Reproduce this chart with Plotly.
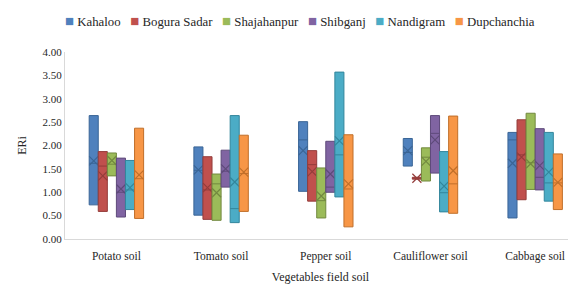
import plotly.graph_objects as go

categories = ["Potato soil", "Tomato soil", "Pepper soil", "Cauliflower soil", "Cabbage soil"]
sites = ["Kahaloo", "Bogura Sadar", "Shajahanpur", "Shibganj", "Nandigram", "Dupchanchia"]

# lower edge, upper edge, median line, mean (X) for each site across the 5 soils
low = {
    "Kahaloo":      [0.73, 0.51, 1.02, 1.56, 0.45],
    "Bogura Sadar": [0.59, 0.42, 0.81, 1.28, 0.84],
    "Shajahanpur":  [1.35, 0.40, 0.45, 1.24, 1.06],
    "Shibganj":     [0.47, 1.11, 1.00, 1.41, 1.05],
    "Nandigram":    [0.63, 0.35, 0.90, 0.58, 0.81],
    "Dupchanchia":  [0.44, 0.59, 0.26, 0.55, 0.63],
}
high = {
    "Kahaloo":      [2.64, 1.97, 2.51, 2.15, 2.28],
    "Bogura Sadar": [1.87, 1.76, 1.89, 1.32, 2.55],
    "Shajahanpur":  [1.84, 1.39, 1.52, 1.95, 2.69],
    "Shibganj":     [1.73, 1.90, 2.09, 2.64, 2.36],
    "Nandigram":    [1.68, 2.64, 3.57, 1.87, 2.28],
    "Dupchanchia":  [2.37, 2.22, 2.23, 2.63, 1.82],
}
median = {
    "Kahaloo":      [1.62, 1.47, 2.12, 1.85, 2.12],
    "Bogura Sadar": [1.56, 1.05, 1.59, 1.30, 1.80],
    "Shajahanpur":  [1.60, 1.18, 0.82, 1.75, 1.63],
    "Shibganj":     [1.00, 1.45, 1.11, 2.26, 1.32],
    "Nandigram":    [1.05, 0.65, 1.80, 0.99, 1.20],
    "Dupchanchia":  [1.29, 1.40, 1.07, 1.18, 1.20],
}
mean = {
    "Kahaloo":      [1.67, 1.48, 1.89, 1.89, 1.62],
    "Bogura Sadar": [1.35, 1.10, 1.44, 1.30, 1.75],
    "Shajahanpur":  [1.68, 0.99, 0.92, 1.66, 1.61],
    "Shibganj":     [1.07, 1.50, 1.39, 2.12, 1.57],
    "Nandigram":    [1.10, 1.22, 2.10, 1.13, 1.43],
    "Dupchanchia":  [1.37, 1.43, 1.18, 1.46, 1.21],
}
y_ticks = [0, 0.5, 1.0, 1.5, 2.0, 2.5, 3.0, 3.5, 4.0]

fill_colors = ["#4F81BD", "#C0504D", "#9BBB59", "#8064A2", "#4BACC6", "#F79646"]
edge_colors = ["#3A6596", "#943C3A", "#72893F", "#5E4A7A", "#33869C", "#C06F2A"]

FONT = "Liberation Serif, Times New Roman, serif"

fig = go.Figure()
for i, s in enumerate(sites):
    fig.add_trace(go.Box(
        name=s, x=categories,
        q1=low[s], q3=high[s], median=median[s],
        lowerfence=low[s], upperfence=high[s],
        fillcolor=fill_colors[i],
        line=dict(color=edge_colors[i], width=1),
        whiskerwidth=0,
        offsetgroup=s, legendgroup=s,
        boxpoints=False, hoverinfo="skip", showlegend=False,
    ))
    fig.add_trace(go.Box(
        name=s, x=categories, y=mean[s],
        fillcolor="rgba(0,0,0,0)",
        line=dict(color="rgba(0,0,0,0)", width=0),
        boxpoints="all", jitter=0, pointpos=0,
        marker=dict(symbol="x-thin", size=9, line=dict(color=edge_colors[i], width=1.2),
                    color=edge_colors[i]),
        offsetgroup=s, legendgroup=s, showlegend=False, hoverinfo="skip",
    ))

# compact legend as a single line of text
parts = []
for i, s in enumerate(sites):
    parts.append(f"<span style='color:{fill_colors[i]};font-size:15px'>■</span> {s}")
legend_text = "&nbsp;&nbsp;&nbsp;".join(parts)
fig.add_annotation(text=legend_text, xref="paper", yref="paper", x=-0.004, y=1.166,
                   xanchor="left", yanchor="middle", showarrow=False,
                   font=dict(family=FONT, size=12.8, color="#262626"))

fig.update_layout(
    width=568, height=276,
    margin=dict(l=57, r=0, t=44, b=45, autoexpand=False),
    paper_bgcolor="white", plot_bgcolor="white",
    boxmode="group", boxgap=0.48, boxgroupgap=0,
    font=dict(family=FONT, size=11, color="#262626"),
    showlegend=False,
    xaxis=dict(type="category", range=[-0.491, 4.39], showline=True, linecolor="#D9D9D9",
               linewidth=1, ticks="", showgrid=False, automargin=False,
               ticklabelstandoff=6,
               title=dict(text="Vegetables field soil", font=dict(family=FONT, size=12), standoff=16),
               tickfont=dict(family=FONT, size=11.5)),
    yaxis=dict(range=[0, 4], tickvals=y_ticks, tickformat=".2f", showline=True,
               linecolor="#D9D9D9", linewidth=1, showgrid=False, zeroline=False,
               ticks="", ticklen=0, automargin=False,
               title=dict(text="ERi", font=dict(family=FONT, size=12), standoff=13),
               tickfont=dict(family=FONT, size=11)),
)

fig.write_html("out.html")
